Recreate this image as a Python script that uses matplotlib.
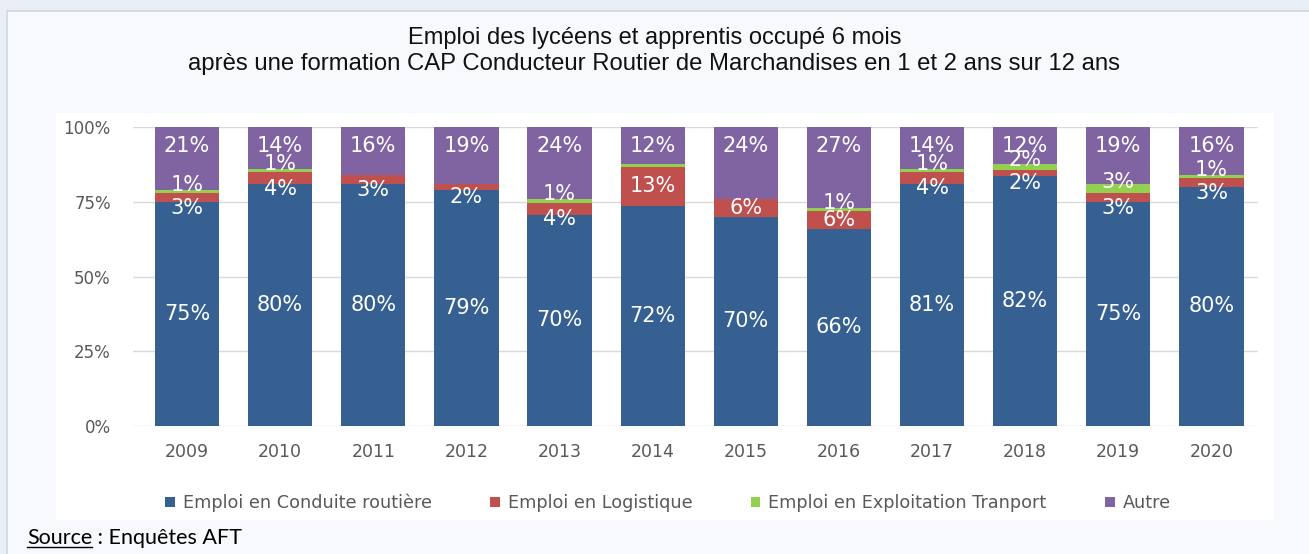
import matplotlib
matplotlib.use("Agg")
import matplotlib.pyplot as plt
import numpy as np
from matplotlib.patches import Rectangle, Patch
from matplotlib.font_manager import FontProperties

years = ["2009", "2010", "2011", "2012", "2013", "2014", "2015", "2016", "2017", "2018", "2019", "2020"]
conduite = [75, 80, 80, 79, 70, 72, 70, 66, 81, 82, 75, 80]
logistique = [3, 4, 3, 2, 4, 13, 6, 6, 4, 2, 3, 3]
exploitation = [1, 1, 0, 0, 1, 1, 0, 1, 1, 2, 3, 1]
autre = [21, 14, 16, 19, 24, 12, 24, 27, 14, 12, 19, 16]
exploitation_labels = ["1%", "1%", "", "", "1%", "", "", "1%", "1%", "2%", "3%", "1%"]

series_names = ["Emploi en Conduite routière", "Emploi en Logistique",
                "Emploi en Exploitation Tranport", "Autre"]
colors = ["#366092", "#C0504D", "#92D050", "#8064A2"]

W, H = 1309, 554
fig = plt.figure(figsize=(W / 100, H / 100), dpi=100)
fig.patch.set_facecolor("#EAEEF6")

def frect(x0, y0, x1, y1, **kw):
    fig.patches.append(Rectangle((x0 / W, 1 - y1 / H), (x1 - x0) / W, (y1 - y0) / H,
                                 transform=fig.transFigure, zorder=-10, **kw))

frect(7, 11, W + 5, H + 5, facecolor="#F7F9FD", edgecolor="#D2D6DD", linewidth=1.2)
frect(56, 113, 1274, 520, facecolor="white", edgecolor="none")

fig.text(0.5, 1 - 38 / H, "Emploi des lycéens et apprentis occupé 6 mois",
         ha="center", va="center", fontsize=17, family="Liberation Sans", color="#111111")
fig.text(0.5, 1 - 64 / H,
         "après une formation CAP Conducteur Routier de Marchandises en 1 et 2 ans sur 12 ans",
         ha="center", va="center", fontsize=17.2, family="Liberation Sans", color="#111111")

ax = fig.add_axes([133 / W, 1 - 426 / H, (1258 - 133) / W, (426 - 127) / H])
ax.set_facecolor("none")

data = np.array([conduite, logistique, exploitation, autre], dtype=float)
totals = data.sum(axis=0)
norm = data / totals * 100
x = np.arange(len(years))
bottom = np.zeros(len(years))
bw = 0.69
for i in range(4):
    ax.bar(x, norm[i], bw, bottom=bottom, color=colors[i], zorder=3, linewidth=0)
    centers = bottom + norm[i] / 2
    for j in range(len(years)):
        lbl_kw = dict(ha="center", va="center", color="white", fontsize=15,
                      family="DejaVu Sans", zorder=5)
        if i == 0:
            ax.text(x[j], centers[j], f"{conduite[j]}%", **lbl_kw)
        elif i == 1:
            y = centers[j] if logistique[j] >= 6 else centers[j] - 3.5
            ax.text(x[j], y, f"{logistique[j]}%", **lbl_kw)
        elif i == 2:
            if exploitation_labels[j]:
                ax.text(x[j], centers[j] + 2.2, exploitation_labels[j], **lbl_kw)
        else:
            ax.text(x[j], 93.6, f"{autre[j]}%", **lbl_kw)
    bottom += norm[i]

ax.set_xlim(-0.58, 11.5)
ax.set_ylim(0, 100)
ax.set_yticks([0, 25, 50, 75, 100])
ax.set_yticklabels(["0%", "25%", "50%", "75%", "100%"])
ax.set_xticks(x)
ax.set_xticklabels(years)
ax.grid(axis="y", color="#D9D9D9", linewidth=1, zorder=0)
for s in ax.spines.values():
    s.set_visible(False)
ax.tick_params(axis="both", length=0, labelcolor="#595959")
ax.tick_params(axis="y", pad=16, labelsize=12)
ax.tick_params(axis="x", pad=12, labelsize=12.5)
for t in ax.get_xticklabels() + ax.get_yticklabels():
    t.set_family("DejaVu Sans")

handles = [Patch(facecolor=c, edgecolor="none") for c in colors]
leg = fig.legend(handles, series_names, loc="center", bbox_to_anchor=(668 / W, 1 - 503 / H),
                 ncol=4, frameon=False,
                 handlelength=0.55, handleheight=0.55, handletextpad=0.45, columnspacing=3.3,
                 prop=FontProperties(family="DejaVu Sans", size=12.7))
for t in leg.get_texts():
    t.set_color("#595959")

src = fig.text(27 / W, 1 - 538 / H, "Source", ha="left", va="center", fontsize=15.5,
               family="Lato", color="black")
fig.canvas.draw()
bb = src.get_window_extent()
fig.add_artist(plt.Line2D([bb.x0 / W, bb.x1 / W], [(bb.y0 + 1) / H, (bb.y0 + 1) / H],
                          transform=fig.transFigure, color="black", linewidth=1))
fig.text(bb.x1 / W, 1 - 538 / H, " : Enquêtes AFT", ha="left", va="center", fontsize=15.5,
         family="Lato", color="black")

fig.savefig("out.png", dpi=100, facecolor=fig.get_facecolor())
